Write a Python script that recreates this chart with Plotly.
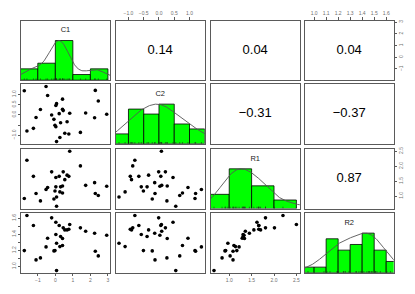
import numpy as np
import plotly.graph_objects as go

# ---------------- data ----------------
var_names = ["C1", "C2", "R1", "R2"]
C1 = [-1.62, -0.21, 0.03, 0.82, -1.25, 0.22, 1.43, 0.45, 0.77, 0.54, 0.67, 1.73, 2.24, 0.03, 2.93,
      0.30, -0.44, 0.41, 0.07, 0.41, 0.26, -0.53, -0.02, -1.77, -0.08, 2.28, 2.45, -0.85, -1.10, 0.07]
C2 = [-0.79, -0.01, 0.46, 0.08, -0.66, 0.06, -0.86, 0.21, -0.94, -0.90, -0.34, 0.09, -0.14, -0.58, 0.03,
      -0.39, 0.95, 0.27, -1.31, 0.77, -1.11, 1.39, -0.51, 1.18, -0.22, 1.20, 0.68, 0.26, -0.13, 0.55]
R1 = [2.20, 1.81, 1.62, 2.50, 1.66, 1.66, 2.01, 1.81, 1.66, 1.55, 1.70, 1.36, 1.45, 1.31, 1.33,
      1.31, 1.29, 1.34, 0.97, 1.105, 1.14, 1.22, 1.17, 0.92, 0.905, 1.085, 1.02, 0.84, 1.085, 0.66]
R2 = [1.635, 1.606, 1.551, 1.523, 1.51, 1.51, 1.481, 1.481, 1.464, 1.456, 1.456, 1.439, 1.414, 1.398, 1.389,
      1.373, 1.352, 1.348, 1.29, 1.261, 1.248, 1.244, 1.198, 1.198, 1.194, 1.190, 1.132, 1.107, 1.082, 0.949]

# correlations printed in the upper panels
cor_C1_C2 = 0.14
cor_C1_R1 = 0.04
cor_C1_R2 = 0.04
cor_C2_R1 = -0.31
cor_C2_R2 = -0.37
cor_R1_R2 = 0.87

# histogram breaks
breaks_C1 = [-2, -1, 0, 1, 2, 3]
breaks_C2 = [-1.5, -1.0, -0.5, 0.0, 0.5, 1.0, 1.5]
breaks_R1 = [0.5, 1.0, 1.5, 2.0, 2.5]
breaks_R2 = [0.9, 1.0, 1.1, 1.2, 1.3, 1.4, 1.5, 1.6, 1.7]

# tick values / labels
ticks_C1 = [-1, 0, 1, 2, 3]
labels_C1 = ["−1", "0", "1", "2", "3"]
ticks_C2 = [-1.0, -0.5, 0.0, 0.5, 1.0]
labels_C2 = ["−1.0", "−0.5", "0.0", "0.5", "1.0"]
labels_C2_left = ["−1.0", "", "0.0", "0.5", "1.0"]
ticks_R1 = [1.0, 1.5, 2.0, 2.5]
labels_R1 = ["1.0", "1.5", "2.0", "2.5"]
ticks_R2 = [1.0, 1.1, 1.2, 1.3, 1.4, 1.5, 1.6]
labels_R2 = ["1.0", "1.1", "1.2", "1.3", "1.4", "1.5", "1.6"]
labels_R2_left = ["1.0", "", "1.2", "", "1.4", "", "1.6"]

data = [np.array(C1), np.array(C2), np.array(R1), np.array(R2)]
breaks = [breaks_C1, breaks_C2, breaks_R1, breaks_R2]
cors = {(0, 1): cor_C1_C2, (0, 2): cor_C1_R1, (0, 3): cor_C1_R2,
        (1, 2): cor_C2_R1, (1, 3): cor_C2_R2, (2, 3): cor_R1_R2}

# ---------------- helpers ----------------
def rrange(x):
    lo, hi = x.min(), x.max()
    s = hi - lo
    return [lo - 0.04 * s, hi + 0.04 * s]

def hist_counts(x, br):
    br = np.asarray(br, float)
    cnt = []
    for i in range(len(br) - 1):
        if i == 0:
            m = (x >= br[i]) & (x <= br[i + 1])
        else:
            m = (x > br[i]) & (x <= br[i + 1])
        cnt.append(m.sum())
    return np.array(cnt, float)

def kde(x):
    n = len(x)
    sd = x.std(ddof=1)
    q1, q3 = np.percentile(x, [25, 75])
    h = 1.06 * min(sd, (q3 - q1) / 1.34) * n ** (-0.2) * 1.2
    g = np.linspace(x.min() - 3 * h, x.max() + 3 * h, 512)
    d = np.exp(-0.5 * ((g[:, None] - x[None, :]) / h) ** 2).sum(axis=1)
    return g, d / d.max()

ranges = [rrange(x) for x in data]

# ---------------- layout geometry ----------------
# the page body has an 8px margin, so the figure is offset by 8px
OFF = 8
W, H = 415 - 2 * OFF, 294 - 2 * OFF
col_left = [21.0 - OFF, 115.7 - OFF, 210.7 - OFF, 304.7 - OFF]
col_w = 89.0
row_top = [20.7 - OFF, 84.3 - OFF, 149.0 - OFF, 213.3 - OFF]
row_h = 59.5

FONT = "Liberation Sans, Arial, sans-serif"
fig = go.Figure()
layout = dict(width=W, height=H, margin=dict(l=0, r=0, t=0, b=0, autoexpand=False),
              paper_bgcolor="white", plot_bgcolor="white", showlegend=False,
              font=dict(family=FONT))

tickfont = dict(size=5, color="#707070", family=FONT)

def base_axis():
    return dict(showgrid=False, zeroline=False, showline=True, mirror=True,
                linecolor="#5a5a5a", linewidth=1, ticks="", showticklabels=False,
                fixedrange=True, automargin=False)

def tick_axis(ax, vals, texts, side, angle=0):
    ax.update(ticks="outside", ticklen=2.5, tickwidth=0.8, tickcolor="#5a5a5a",
              showticklabels=True, tickvals=vals, ticktext=texts, side=side,
              tickfont=tickfont, tickangle=angle)

tick_sets = [(ticks_C1, labels_C1), (ticks_C2, labels_C2), (ticks_R1, labels_R1), (ticks_R2, labels_R2)]

for r in range(4):
    for c in range(4):
        k = r * 4 + c + 1
        xa = "x" if k == 1 else f"x{k}"
        ya = "y" if k == 1 else f"y{k}"
        xkey = "xaxis" if k == 1 else f"xaxis{k}"
        ykey = "yaxis" if k == 1 else f"yaxis{k}"
        xd = [col_left[c] / W, (col_left[c] + col_w) / W]
        yd = [1 - (row_top[r] + row_h) / H, 1 - row_top[r] / H]
        xax = base_axis(); yax = base_axis()
        xax.update(domain=xd, anchor=ya, range=ranges[c])
        yax.update(domain=yd, anchor=xa)
        if r == c:
            yax.update(range=[0, 1.5])
            x = data[c]
            br = np.asarray(breaks[c], float)
            cnt = hist_counts(x, br)
            fig.add_trace(go.Bar(x=(br[:-1] + br[1:]) / 2, y=cnt / cnt.max(), width=np.diff(br),
                                 marker=dict(color="#00FF00", line=dict(color="black", width=0.8)),
                                 xaxis=xa, yaxis=ya, hoverinfo="skip"))
            g, d = kde(x)
            fig.add_trace(go.Scatter(x=g, y=d, mode="lines", line=dict(color="#555555", width=0.9),
                                     xaxis=xa, yaxis=ya, hoverinfo="skip"))
            rx, ry = [], []
            for v in x:
                rx += [v, v, None]; ry += [0, 0.045, None]
            fig.add_trace(go.Scatter(x=rx, y=ry, mode="lines", line=dict(color="#222222", width=0.6),
                                     xaxis=xa, yaxis=ya, hoverinfo="skip"))
            fig.add_trace(go.Scatter(x=[sum(ranges[c]) / 2], y=[1.25], mode="text",
                                     text=[var_names[c]], textposition="middle center",
                                     textfont=dict(size=7.5, color="#222222", family=FONT),
                                     xaxis=xa, yaxis=ya, hoverinfo="skip"))
        elif r > c:
            yax.update(range=ranges[r])
            fig.add_trace(go.Scatter(x=data[c], y=data[r], mode="markers",
                                     marker=dict(size=3.6, color="black"),
                                     xaxis=xa, yaxis=ya, hoverinfo="skip"))
        else:
            yax.update(range=ranges[r])
            txt = f"{cors[(r, c)]:.2f}".replace("-", "−")
            fig.add_trace(go.Scatter(x=[sum(ranges[c]) / 2], y=[sum(ranges[r]) / 2], mode="text",
                                     text=[txt], textposition="middle center",
                                     textfont=dict(size=13, color="black", family=FONT),
                                     xaxis=xa, yaxis=ya, hoverinfo="skip"))
        # outer axes, as in R's pairs()
        if r == 0 and c in (1, 3):
            tick_axis(xax, tick_sets[c][0], tick_sets[c][1], "top")
        if r == 3 and c in (0, 2):
            tick_axis(xax, tick_sets[c][0], tick_sets[c][1], "bottom")
        if c == 3 and r in (0, 2):
            tick_axis(yax, tick_sets[r][0], tick_sets[r][1], "right", -90)
        if c == 0 and r == 1:
            tick_axis(yax, ticks_C2, labels_C2_left, "left", -90)
        if c == 0 and r == 3:
            tick_axis(yax, ticks_R2, labels_R2_left, "left", -90)
        layout[xkey] = xax
        layout[ykey] = yax

fig.update_layout(**layout)
fig.write_html("out.html")
